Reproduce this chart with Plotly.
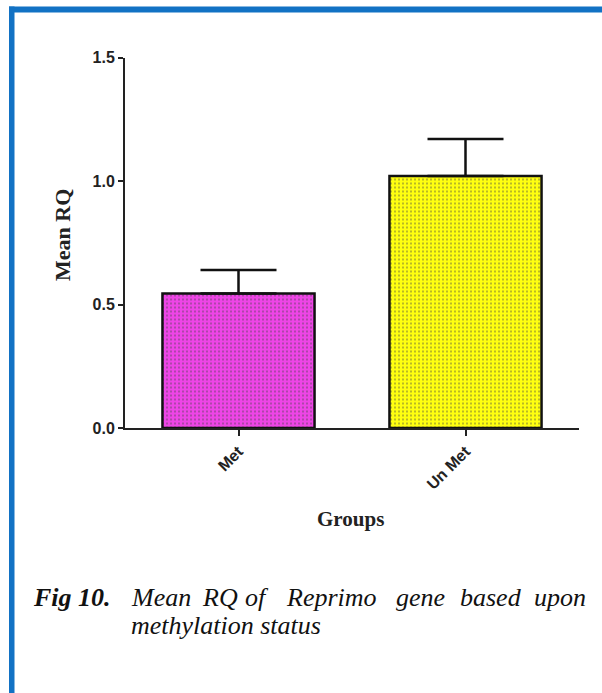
import plotly.graph_objects as go

# Mean RQ per methylation group, with the upper SEM bar
groups = ["Met", "Un Met"]
mean_rq = [0.545, 1.02]
sem = [0.095, 0.15]
fill_colors = ["#EE45E6", "#FFFF10"]
dot_colors = ["#A82AA8", "#A8A800"]

y_ticks = [0.0, 0.5, 1.0, 1.5]
y_tick_text = ["0.0", "0.5", "1.0", "1.5"]

caption_label = "Fig 10."
caption_words = ["Mean", "RQ", "of", "Reprimo", "gene", "based", "upon"]
caption_line2 = "methylation status"

W, H = 602, 693


def px_x(x):
    return x / W


def px_y(y):
    return 1 - y / H


fig = go.Figure()
fig.add_trace(go.Bar(
    x=groups,
    y=mean_rq,
    width=0.67,
    marker=dict(
        color=fill_colors,
        line=dict(color="#111111", width=2.5),
        pattern=dict(shape=".", size=4, solidity=0.2, fgcolor=dot_colors, fillmode="overlay"),
    ),
    error_y=dict(type="data", symmetric=False, array=sem, arrayminus=[0, 0],
                 color="#111111", thickness=2.5, width=38),
    showlegend=False,
))

tick_font = dict(family="Liberation Sans, Arial", size=16, color="#222222", weight="bold")

fig.update_layout(
    width=W, height=H,
    autosize=False,
    margin=dict(l=0, r=0, t=0, b=0, pad=0, autoexpand=False),
    paper_bgcolor="white",
    plot_bgcolor="white",
    showlegend=False,
    xaxis=dict(
        domain=[px_x(125), px_x(579)],
        range=[-0.5, 1.5],
        automargin=False,
        showline=True, linecolor="#222222", linewidth=2,
        ticks="outside", ticklen=6, tickwidth=2, tickcolor="#222222",
        tickangle=-45,
        tickfont=tick_font,
        showgrid=False, zeroline=False,
    ),
    yaxis=dict(
        domain=[px_y(428), px_y(57.5)],
        range=[0, 1.5],
        automargin=False,
        tickvals=y_ticks, ticktext=y_tick_text,
        showline=True, linecolor="#222222", linewidth=2,
        ticks="outside", ticklen=5, tickwidth=2, tickcolor="#222222",
        tickfont=tick_font,
        showgrid=False, zeroline=False,
    ),
)

serif = "Liberation Serif, Times New Roman"

# axis titles
fig.add_annotation(text="<b>Mean RQ</b>", x=px_x(62), y=px_y(235), xref="paper", yref="paper",
                   textangle=-90, showarrow=False, xanchor="center", yanchor="middle",
                   font=dict(family=serif, size=22, color="#222222"))
fig.add_annotation(text="<b>Groups</b>", x=px_x(350), y=px_y(519), xref="paper", yref="paper",
                   showarrow=False, xanchor="center", yanchor="middle",
                   font=dict(family=serif, size=21, color="#222222"))

# figure caption; first line is justified, so each word is placed on its own
cap_font = dict(family=serif, size=26, color="#111111")
fig.add_annotation(text="<b><i>" + caption_label + "</i></b>", x=px_x(31), y=px_y(597),
                   xref="paper", yref="paper", showarrow=False, xanchor="left", yanchor="middle",
                   font=cap_font)
word_left = [129, 200, 243, 284, 394, 458, 532]
for word, wx in zip(caption_words, word_left):
    fig.add_annotation(text="<i>" + word + "</i>", x=px_x(wx), y=px_y(597), xref="paper", yref="paper",
                       showarrow=False, xanchor="left", yanchor="middle", font=cap_font)
fig.add_annotation(text="<i>" + caption_line2 + "</i>", x=px_x(129), y=px_y(625), xref="paper",
                   yref="paper", showarrow=False, xanchor="left", yanchor="middle", font=cap_font)

# blue frame along the top and left edges
frame_blue = "#1272C4"
fig.add_shape(type="rect", xref="paper", yref="paper",
              x0=px_x(9), x1=1, y0=px_y(12.5), y1=px_y(6.5),
              fillcolor=frame_blue, line=dict(width=0), layer="above")
fig.add_shape(type="rect", xref="paper", yref="paper",
              x0=px_x(9), x1=px_x(14.5), y0=0, y1=px_y(6.5),
              fillcolor=frame_blue, line=dict(width=0), layer="above")

fig.write_html("out.html")
